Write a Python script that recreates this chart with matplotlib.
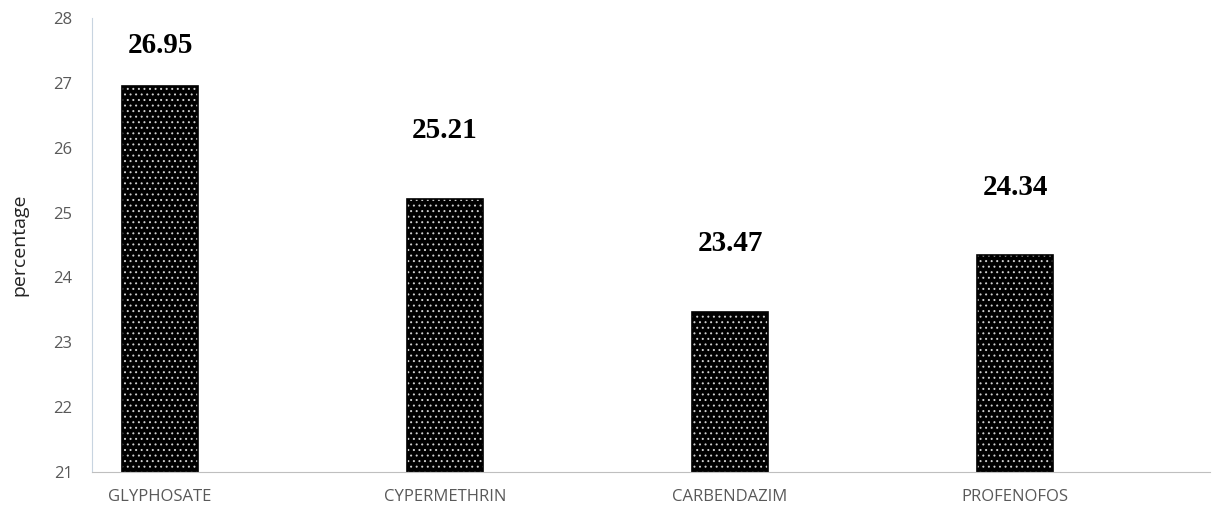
import matplotlib
matplotlib.use("Agg")
import matplotlib.pyplot as plt

categories = ["GLYPHOSATE", "CYPERMETHRIN", "CARBENDAZIM", "PROFENOFOS"]
values = [26.95, 25.21, 23.47, 24.34]
labels = ["26.95", "25.21", "23.47", "24.34"]
yticks = [21, 22, 23, 24, 25, 26, 27, 28]

plt.rcParams['hatch.linewidth'] = 0.7
fig = plt.figure(figsize=(12.26, 5.13), dpi=100)
ax = fig.add_axes([0.075, 0.08, 0.912, 0.885])

x = list(range(len(categories)))
ax.bar(x, [v - 21 for v in values], bottom=21, width=0.267, color="black",
       edgecolor="#d0d0d0", hatch="...", linewidth=0)
ax.bar(x, [v - 21 for v in values], bottom=21, width=0.267, fill=False,
       edgecolor="black", linewidth=1.2)

for xi, v, lab in zip(x, values, labels):
    ax.text(xi, min(v + 1.05, 27.58), lab, ha="center", va="center",
            fontsize=21, fontweight="bold", family="Liberation Serif", color="black")

ax.set_ylim(21, 28)
ax.set_xlim(-0.239, 3.684)
ax.set_yticks(yticks)
ax.set_xticks(x)
ax.set_xticklabels(categories)
ax.tick_params(axis="both", length=0, colors="#595959", labelsize=12)
ax.tick_params(axis="y", pad=14)
ax.tick_params(axis="x", pad=12)
for lab in ax.get_xticklabels() + ax.get_yticklabels():
    lab.set_family("Open Sans")
ax.set_ylabel("percentage", fontsize=14, family="Open Sans", color="#222222", labelpad=18)
for s in ["top", "right"]:
    ax.spines[s].set_visible(False)
ax.spines["left"].set_color("#c8d4e0")
ax.spines["bottom"].set_color("#bfbfbf")

fig.savefig("out.png", dpi=100)
